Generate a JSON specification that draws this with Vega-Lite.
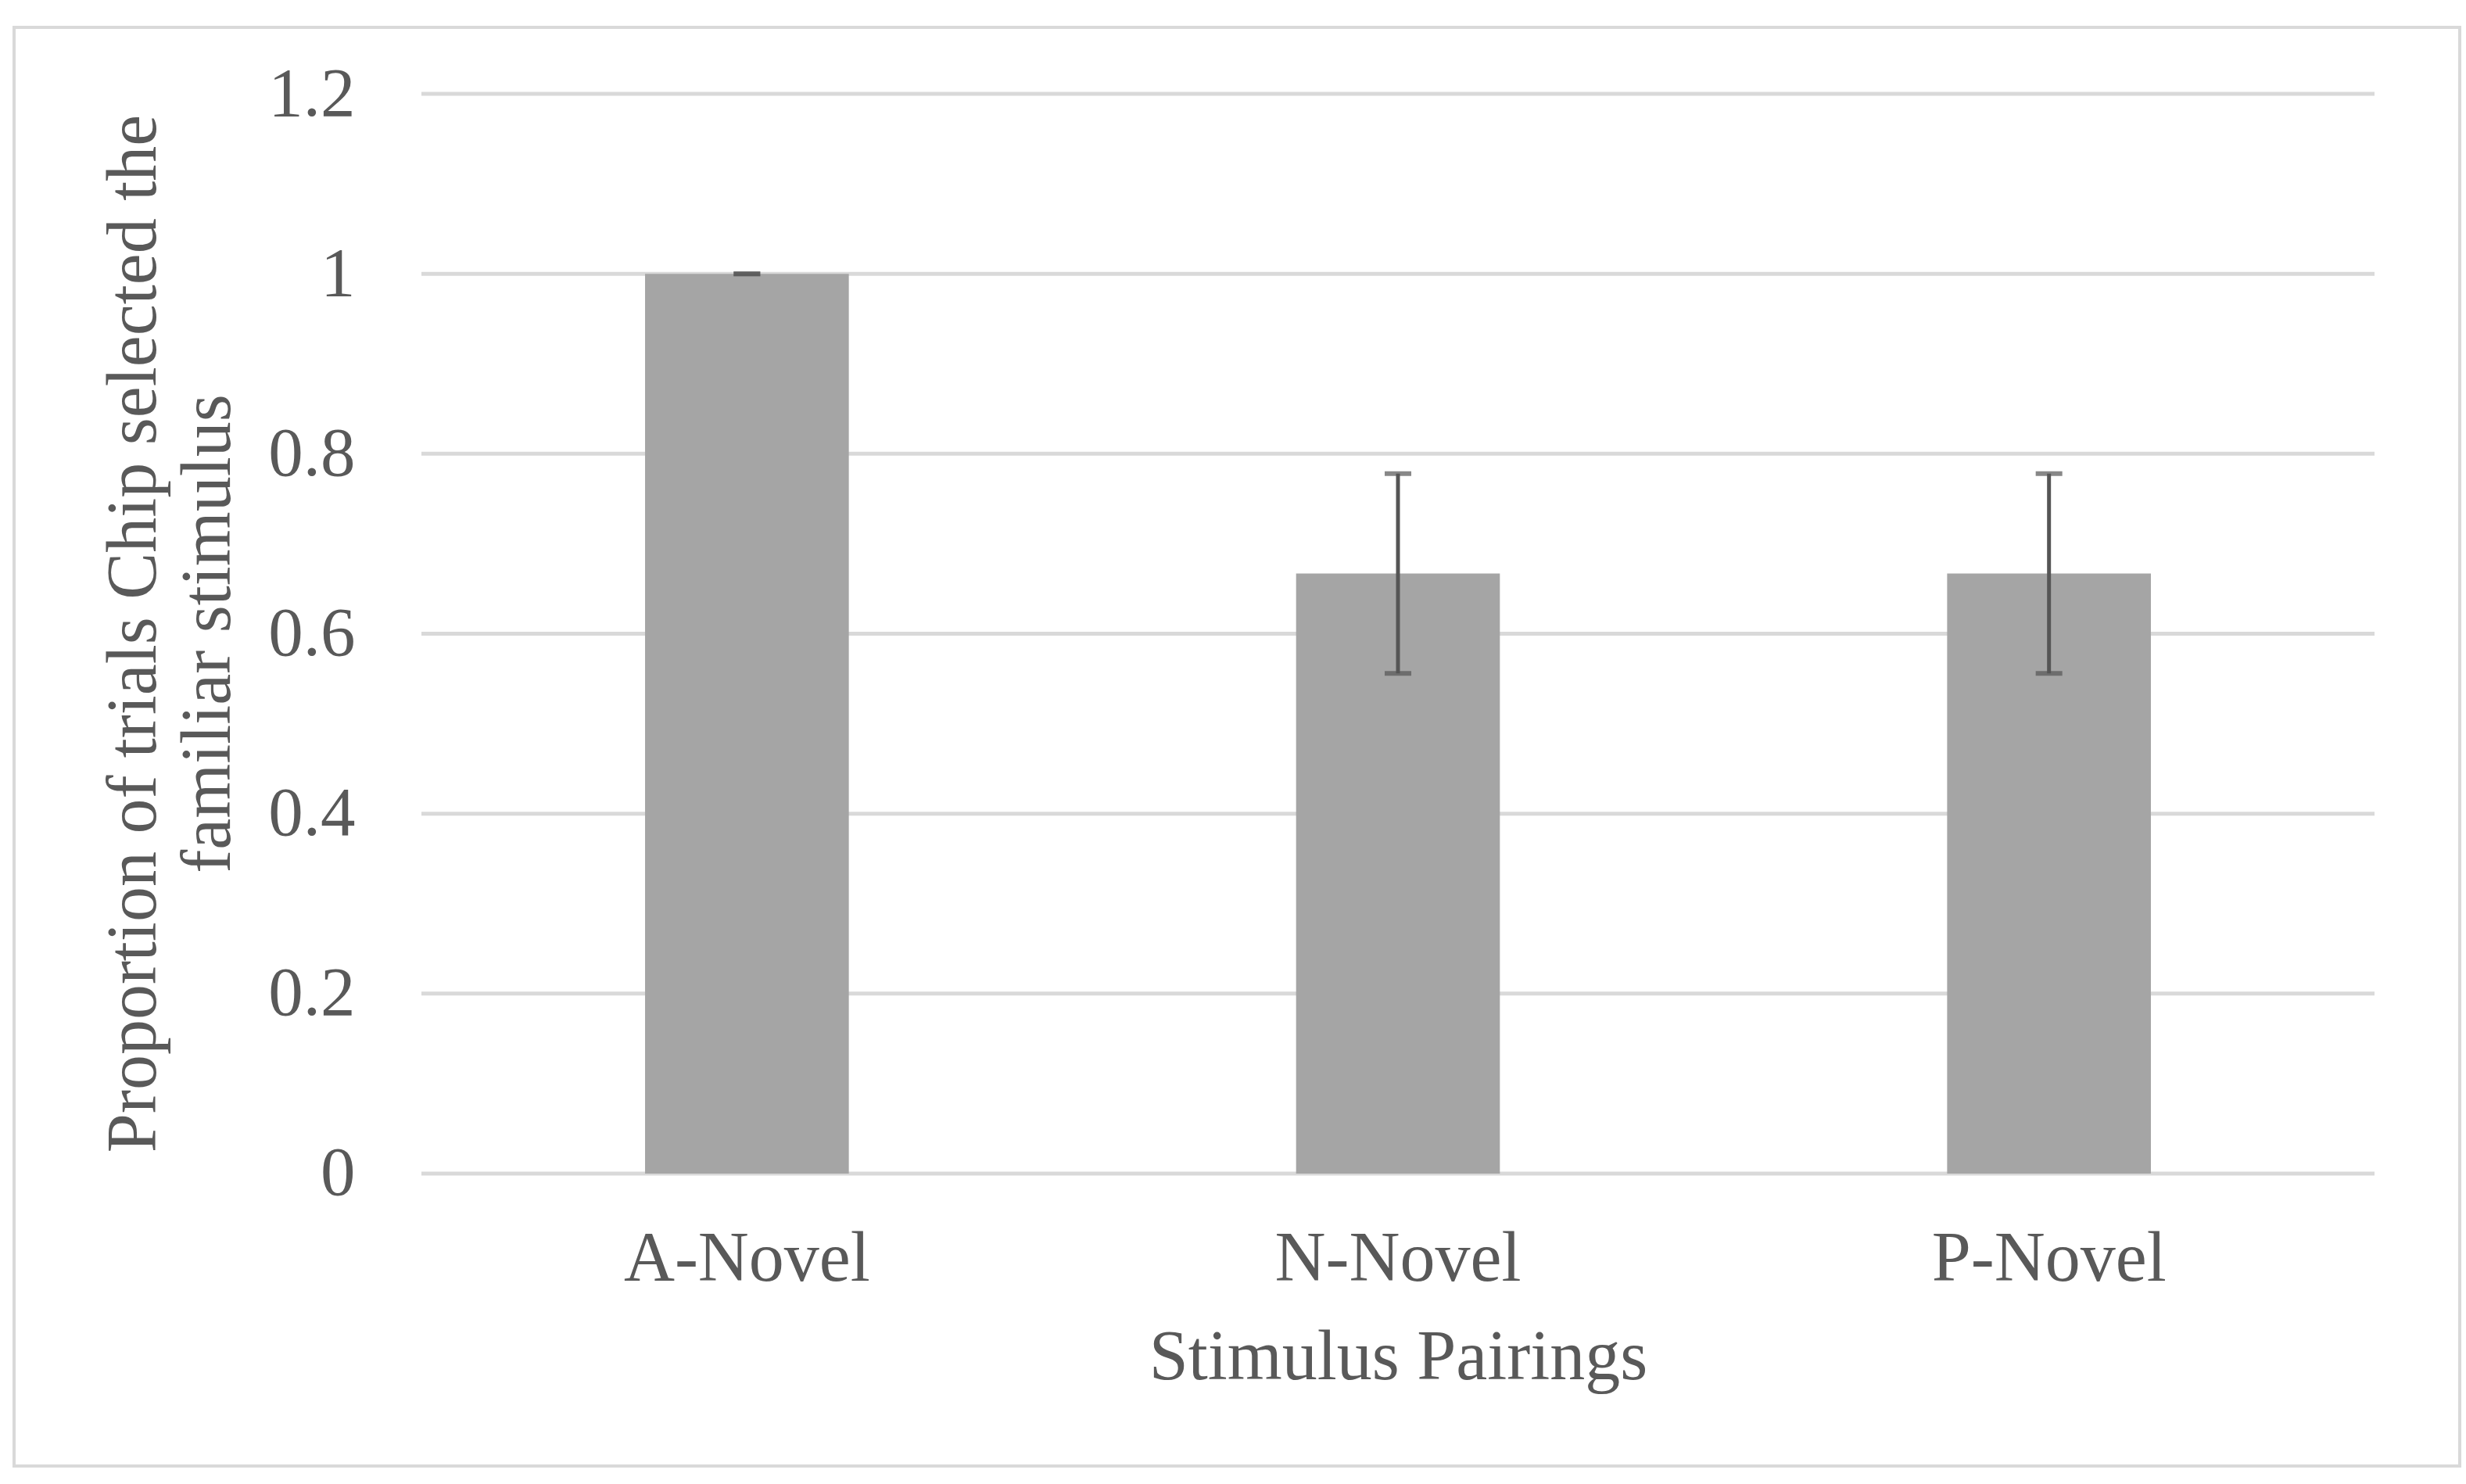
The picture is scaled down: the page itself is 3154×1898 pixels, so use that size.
{
  "$schema": "https://vega.github.io/schema/vega-lite/v6.json",
  "width": 3128,
  "height": 1840,
  "autosize": {"type": "none"},
  "padding": {"left": 18, "top": 35, "right": 8, "bottom": 23},
  "background": "white",
  "config": {
    "view": {"stroke": "#d9d9d9", "strokeWidth": 4},
    "font": "Liberation Serif"
  },
  "datasets": {
    "bars": [
      {"pairing": "A-Novel", "value": 1.0, "lo": 1.0, "hi": 1.0},
      {"pairing": "N-Novel", "value": 0.667, "lo": 0.556, "hi": 0.778},
      {"pairing": "P-Novel", "value": 0.667, "lo": 0.556, "hi": 0.778}
    ],
    "grid": [
      {"v": 0}, {"v": 0.2}, {"v": 0.4}, {"v": 0.6}, {"v": 0.8}, {"v": 1.0}, {"v": 1.2}
    ]
  },
  "layer": [
    {
      "data": {"name": "grid"},
      "mark": {"type": "rule", "color": "#d9d9d9", "strokeWidth": 5},
      "encoding": {
        "y": {
          "field": "v", "type": "quantitative",
          "scale": {"domain": [-0.325, 1.2739], "nice": false, "zero": false},
          "axis": {
            "values": [0, 0.2, 0.4, 0.6, 0.8, 1, 1.2], "format": "~g",
            "domain": false, "ticks": false, "grid": false, "offset": -521, "zindex": 2,
            "labelFont": "Liberation Serif", "labelFontSize": 89, "labelColor": "#595959", "labelPadding": 85,
            "title": ["Proportion of trials Chip selected the", "familiar stimulus"],
            "titleFont": "Liberation Serif", "titleFontSize": 90, "titleFontWeight": "normal", "titleColor": "#595959", "titlePadding": 30, "titleLineHeight": 95,
            "titleY": 775, "titleAnchor": "middle"
          }
        },
        "x": {
          "datum": "A-Novel", "type": "nominal", "bandPosition": 0,
          "scale": {"domain": ["A-Novel", "N-Novel", "P-Novel"], "paddingInner": 0, "paddingOuter": 0.3783, "align": 0.827},
          "axis": {
            "domain": false, "ticks": false, "grid": false, "offset": -374, "zindex": 2,
            "labelAngle": 0, "labelFont": "Liberation Serif", "labelFontSize": 90, "labelColor": "#595959", "labelPadding": 65, "labelLimit": 0,
            "title": "Stimulus Pairings", "titleFont": "Liberation Serif", "titleFontSize": 90, "titleFontWeight": "normal", "titleColor": "#595959", "titlePadding": 37,
            "titleX": 1770, "titleAnchor": "middle"
          }
        },
        "x2": {"datum": "P-Novel", "bandPosition": 1}
      }
    },
    {
      "data": {"name": "bars"},
      "mark": {"type": "bar", "color": "#a5a5a5", "width": {"band": 0.313}},
      "encoding": {
        "x": {"field": "pairing", "type": "nominal", "sort": null},
        "y": {"field": "value", "type": "quantitative"},
        "y2": {"datum": 0}
      }
    },
    {
      "data": {"name": "bars"},
      "mark": {"type": "rule", "color": "#555555", "strokeWidth": 5},
      "encoding": {
        "x": {"field": "pairing", "type": "nominal"},
        "y": {"field": "lo", "type": "quantitative"},
        "y2": {"field": "hi"}
      }
    },
    {
      "data": {"name": "bars"},
      "mark": {"type": "tick", "color": "#555555", "size": 34, "thickness": 6},
      "encoding": {
        "x": {"field": "pairing", "type": "nominal"},
        "y": {"field": "lo", "type": "quantitative"}
      }
    },
    {
      "data": {"name": "bars"},
      "mark": {"type": "tick", "color": "#555555", "size": 34, "thickness": 6},
      "encoding": {
        "x": {"field": "pairing", "type": "nominal"},
        "y": {"field": "hi", "type": "quantitative"}
      }
    }
  ]
}
